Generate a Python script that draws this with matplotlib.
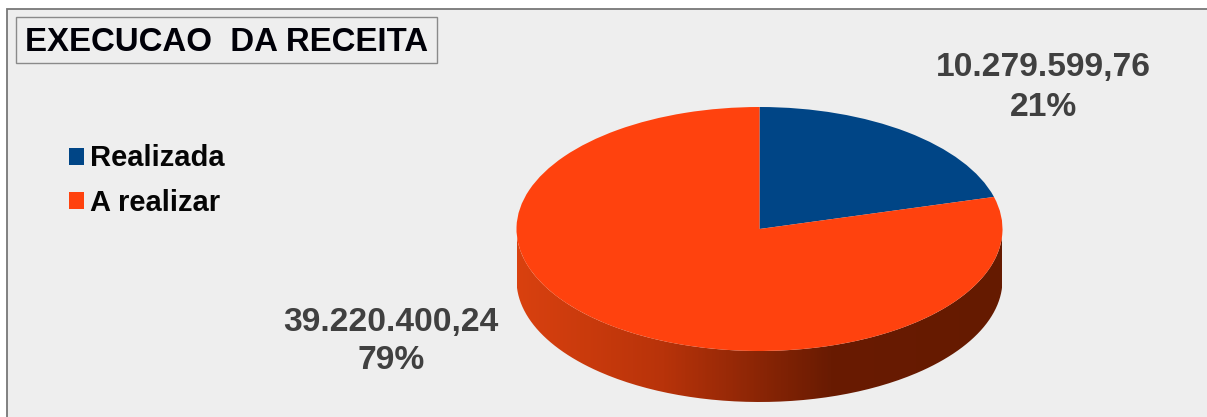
import matplotlib
matplotlib.use('Agg')
import matplotlib.pyplot as plt
from matplotlib.colors import LinearSegmentedColormap
from matplotlib.patches import Rectangle
from matplotlib.path import Path
from matplotlib.patches import PathPatch
import numpy as np

plt.rcParams['font.family'] = ['Liberation Sans', 'DejaVu Sans']

categories = ['Realizada', 'A realizar']
values = [10279599.76, 39220400.24]
value_labels = ['10.279.599,76', '39.220.400,24']
percent_labels = ['21%', '79%']
title = 'EXECUCAO  DA RECEITA'
colors = ['#004586', '#ff420e']

W, H = 1207, 417
fig = plt.figure(figsize=(W / 100, H / 100), dpi=100, facecolor='white')

# background axes in pixel coordinates
bg = fig.add_axes([0, 0, 1, 1])
bg.set_xlim(0, W)
bg.set_ylim(H, 0)
bg.axis('off')
bg.add_patch(Rectangle((6.5, 8.5), W, H, fc='#eeeeee', ec='#777777', lw=1.3))

# ellipse of the pie top, in pixels
cx, cy, rx, ry, depth = 759.5, 229, 243, 122, 51
d = depth / ry
pie_ax = fig.add_axes([(cx - rx) / W, 1 - (cy + ry + depth) / H,
                       2 * rx / W, (2 * ry + depth) / H])

# side of the cylinder, gradient clipped to the lower rim
t = np.linspace(np.pi, 2 * np.pi, 200)
rim_x = np.cos(t)
rim_y = np.sin(t)
side_x = np.concatenate([rim_x, rim_x[::-1]])
side_y = np.concatenate([rim_y, rim_y[::-1] - d])
side = PathPatch(Path(np.column_stack([side_x, side_y])), fc='none', ec='none')
pie_ax.add_patch(side)
cmap = LinearSegmentedColormap.from_list(
    'side', [(0, '#d9410f'), (0.3, '#b8330a'), (0.645, '#691b02'), (1, '#651a00')])
grad = pie_ax.imshow(np.linspace(0, 1, 400).reshape(1, -1), cmap=cmap,
                     extent=[-1, 1, -1 - d, 1], aspect='auto', zorder=1)
grad.set_clip_path(side)

wedges, _ = pie_ax.pie(values, colors=colors, startangle=90, counterclock=False,
                       radius=1, wedgeprops={'linewidth': 0, 'zorder': 2})
pie_ax.set_aspect('auto')
pie_ax.set_xlim(-1, 1)
pie_ax.set_ylim(-1 - d, 1)
pie_ax.axis('off')

bg.text(226.5, 42.5, title, fontsize=23.8, fontweight='bold', color='#000008',
        ha='center', va='center', zorder=3)
bg.add_patch(Rectangle((16, 17), 420.5, 46, fc='none', ec='#8a8a8a', lw=1))

fig.legend(wedges, categories, loc='upper left', bbox_to_anchor=(69 / W, 1 - 144.5 / H),
           frameon=False, prop={'size': 21, 'weight': 'bold'},
           handlelength=0.52, handleheight=0.52, handletextpad=0.2,
           labelspacing=0.55, borderpad=0, borderaxespad=0, labelcolor='#050505')

bg.text(1043.5, 87.5, value_labels[0] + '\n' + percent_labels[0], fontsize=24.2,
        fontweight='bold', color='#404040', ha='center', va='center', linespacing=1.35)
bg.text(391, 341.5, value_labels[1] + '\n' + percent_labels[1], fontsize=24.2,
        fontweight='bold', color='#404040', ha='center', va='center', linespacing=1.33)

fig.savefig('out.png', dpi=100, facecolor='white')
